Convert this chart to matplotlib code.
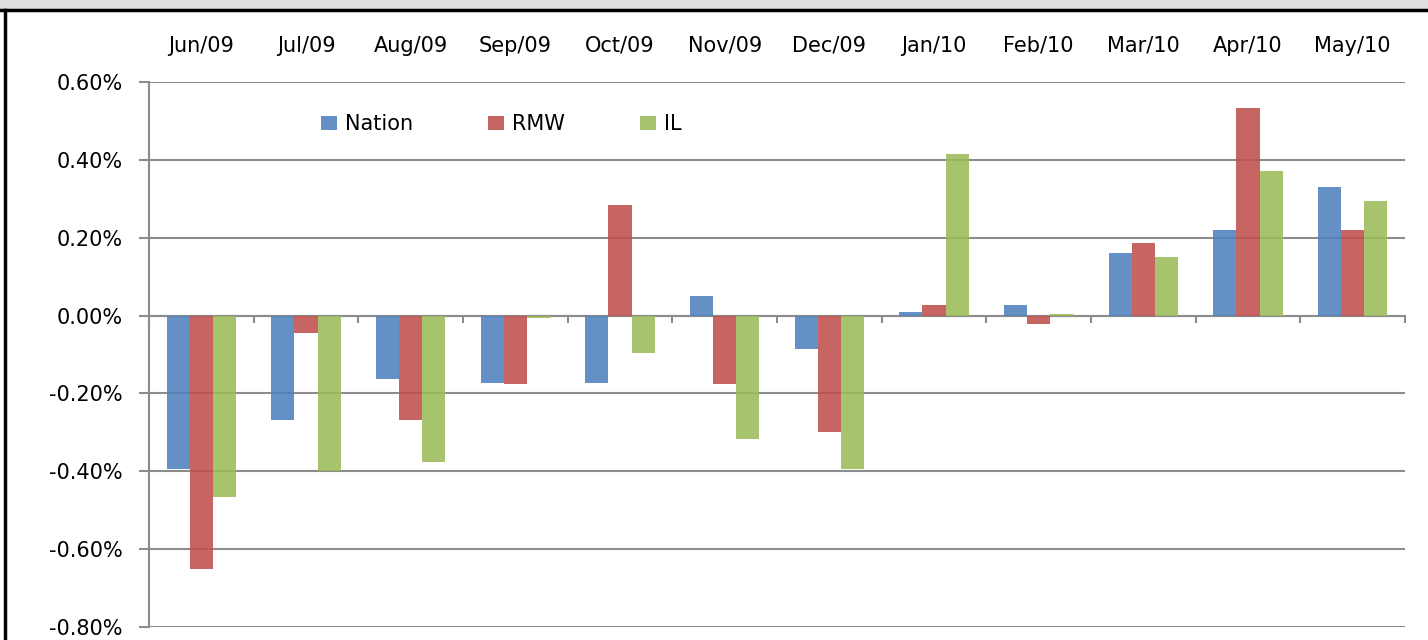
import matplotlib
matplotlib.use("Agg")
import matplotlib.pyplot as plt
import numpy as np
from matplotlib.lines import Line2D
from matplotlib.patches import Rectangle

# dados (% de variacao mensal)
meses = ["Jun/09", "Jul/09", "Aug/09", "Sep/09", "Oct/09", "Nov/09",
         "Dec/09", "Jan/10", "Feb/10", "Mar/10", "Apr/10", "May/10"]
nation = [-0.393, -0.267, -0.162, -0.172, -0.172, 0.049,
          -0.085, 0.008, 0.026, 0.162, 0.221, 0.329]
rmw = [-0.652, -0.046, -0.267, -0.177, 0.285, -0.177,
       -0.298, 0.026, -0.021, 0.187, 0.534, 0.221]
il = [-0.467, -0.398, -0.375, -0.005, -0.095, -0.316,
      -0.393, 0.416, 0.005, 0.151, 0.372, 0.295]

plt.rcParams['font.family'] = ['DejaVu Sans']
fs = 15

fig = plt.figure(figsize=(14.28, 6.4), dpi=100)
ax = fig.add_axes([149/1428, 1 - 627/640, (1405 - 149)/1428, (627 - 82)/640])

x = np.arange(len(meses))
w = 0.22
ax.bar(x - w, nation, w, color="#4F81BD", alpha=0.88, label="Nation", zorder=3)
ax.bar(x, rmw, w, color="#C0504D", alpha=0.88, label="RMW", zorder=3)
ax.bar(x + w, il, w, color="#9BBB59", alpha=0.88, label="IL", zorder=3)

ax.set_xlim(-0.5, 11.5)
ax.set_ylim(-0.8, 0.6)
yt = [-0.8, -0.6, -0.4, -0.2, 0.0, 0.2, 0.4, 0.6]
ax.set_yticks(yt)
ax.set_yticklabels(["%.2f%%" % (round(v, 2) + 0.0) for v in yt], fontsize=fs)
ax.yaxis.grid(True, color="#8c8c8c", linewidth=1.5, zorder=0)
ax.tick_params(axis="y", direction="out", length=7, width=1.5, color="#8c8c8c", pad=12)

# eixo x na linha do zero
for s in ["top", "right"]:
    ax.spines[s].set_visible(False)
ax.spines["left"].set_color("#8c8c8c")
ax.spines["left"].set_linewidth(1.5)
ax.spines["bottom"].set_position(("data", 0))
ax.spines["bottom"].set_color("#8c8c8c")
ax.spines["bottom"].set_linewidth(1.5)
ax.set_xticks([])
ax.set_xticks(np.arange(-0.5, 12, 1), minor=True)
ax.tick_params(axis="x", which="minor", direction="out", length=5, width=1.5, color="#8c8c8c")
ax.tick_params(axis="x", which="major", length=0)

# rotulos dos meses no topo
sec = ax.secondary_xaxis("top")
sec.set_xticks(x)
sec.set_xticklabels(meses, fontsize=fs)
sec.tick_params(length=0, pad=19)
sec.spines["top"].set_visible(False)

ax.legend(loc="upper left", bbox_to_anchor=(0.122, 0.975), ncol=3, frameon=False,
          fontsize=fs, handlelength=0.75, handleheight=0.7, handletextpad=0.4,
          columnspacing=3.6)

# moldura
fig.add_artist(Rectangle((0, 1 - 9/640), 1, 9/640, transform=fig.transFigure,
                         color="#e0e0e0", zorder=0))
fig.add_artist(Line2D([0, 1], [1 - 10/640, 1 - 10/640], transform=fig.transFigure,
                      color="black", linewidth=2.5))
fig.add_artist(Line2D([5/1428, 5/1428], [0, 1 - 10/640], transform=fig.transFigure,
                      color="black", linewidth=2.5))

fig.savefig("out.png", dpi=100)
